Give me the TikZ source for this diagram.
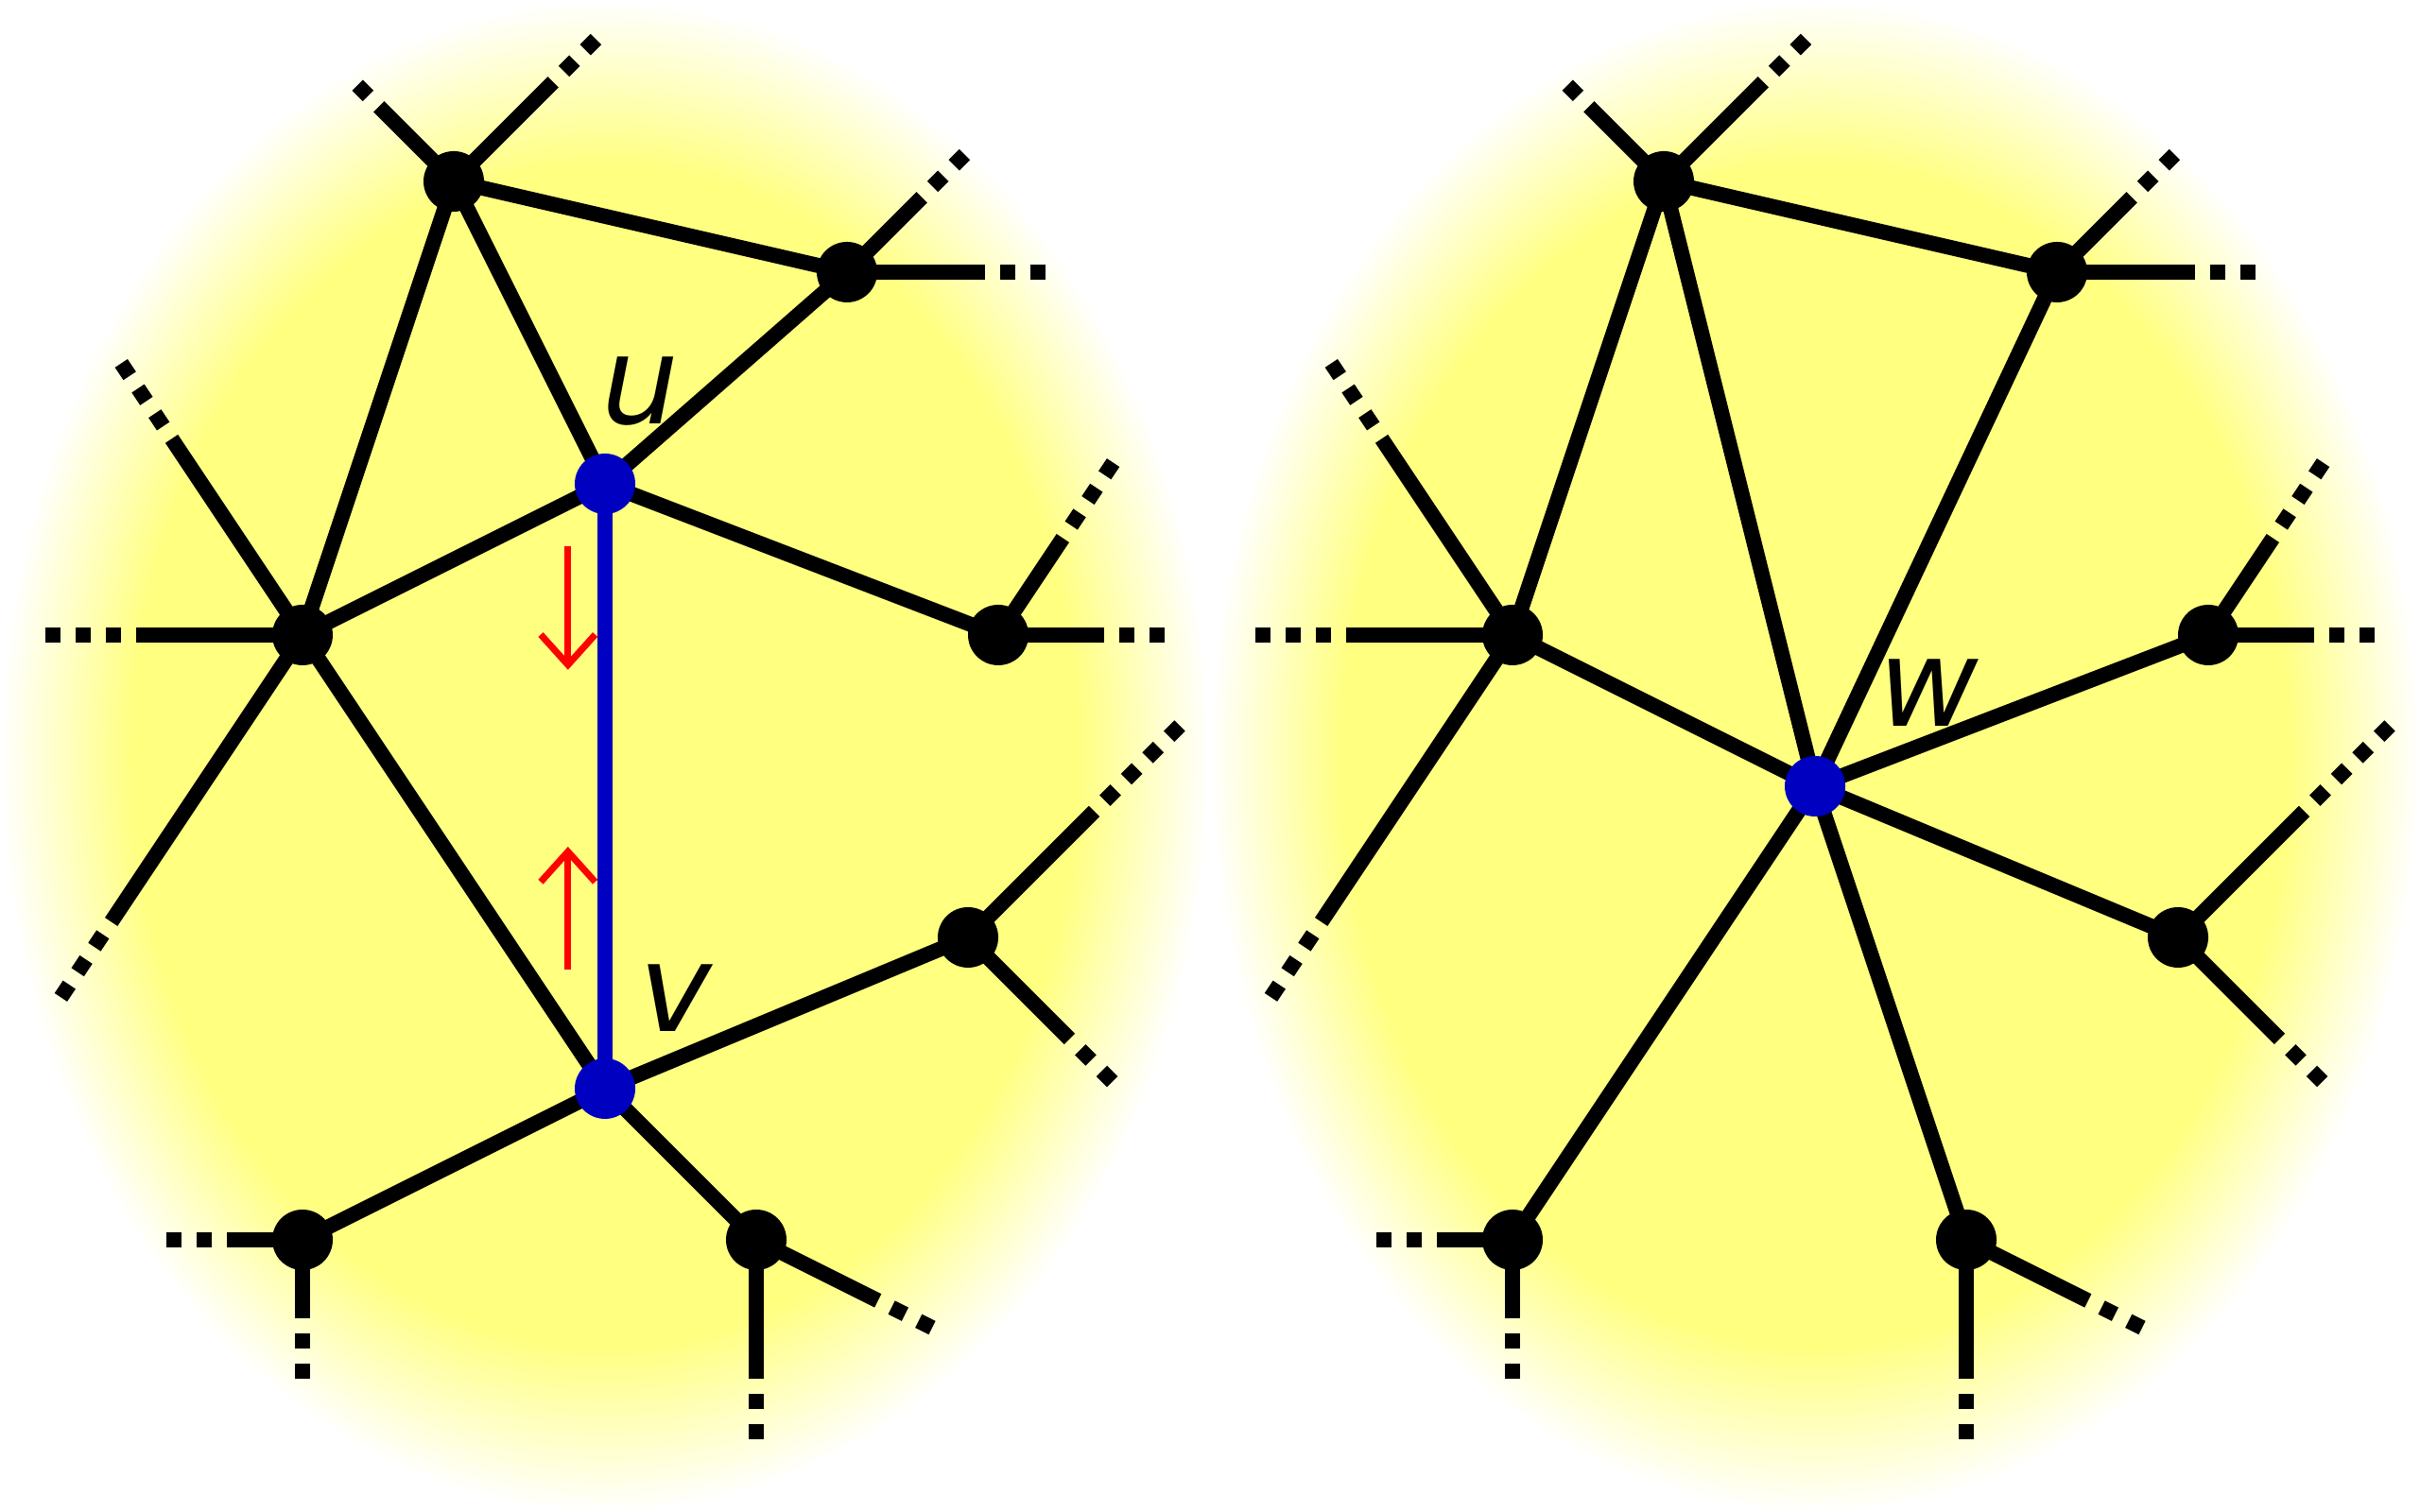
\documentclass[tikz,border=0pt]{standalone}
\usepackage{fontspec}
\setmainfont{DejaVu Sans}
\usetikzlibrary{calc,arrows.meta}
\definecolor{yel}{RGB}{255,255,128}
\definecolor{nodeblue}{RGB}{0,0,192}
\pgfdeclareradialshading{glow}{\pgfpoint{0bp}{0bp}}{color(0bp)=(yel); color(19.5bp)=(yel); color(25bp)=(white); color(50bp)=(white)}
\pgfdeclarelayer{bg}
\pgfsetlayers{bg,main}
\tikzset{
 dot/.style={circle,fill=black,minimum size=0.4cm,inner sep=0pt},
 bdot/.style={dot,fill=nodeblue},
 edge/.style={line width=0.1cm},
 bedge/.style={line width=0.1cm,draw=nodeblue},
 dots/.style={line width=0.1cm,dash pattern=on 0.1cm off 0.1cm,dash phase=0.1cm},
 lab/.style={font=\fontsize{23}{27}\selectfont\itshape,inner sep=0pt},
 move/.style={draw=red,line width=0.044cm,-{Straight Barb[length=0.2cm,width=0.36cm]}}
}
% node, angle, solid length, total length, name
\newcommand\stubline[5]{%
 \coordinate (#5a) at ($(#1)+(#2:#3)$);
 \coordinate (#5b) at ($(#1)+(#2:#4)$);
 \draw[edge] (#1.center) -- (#5a);
 \draw[dots] (#5a) -- (#5b);
}
\newcommand\stubset[2]{% node prefix suffix
 \stubline{A#1}{135}{0.7}{0.9}{sa1#1}
 \stubline{A#1}{45}{0.93}{1.33}{sa2#1}
 \stubline{B#1}{0}{0.91}{1.31}{sb1#1}
 \stubline{B#1}{45}{0.7}{1.1}{sb2#1}
 \stubline{C#1}{180}{1.1}{1.7}{sc1#1}
 \stubline{C#1}{123.69}{1.56}{2.16}{sc2#1}
 \stubline{C#1}{236.31}{2.28}{2.88}{sc3#1}
 \stubline{D#1}{0}{0.7}{1.1}{sd1#1}
 \stubline{D#1}{56.31}{0.77}{1.37}{sd2#1}
 \stubline{E#1}{45}{1.18}{1.98}{se1#1}
 \stubline{E#1}{-45}{0.95}{1.35}{se2#1}
 \stubline{F#1}{180}{0.5}{0.9}{sf1#1}
 \stubline{F#1}{-90}{0.52}{0.92}{sf2#1}
 \stubline{G#1}{-90}{0.92}{1.32}{sg1#1}
 \stubline{G#1}{-26.57}{0.9}{1.3}{sg2#1}
}
\begin{document}
\begin{tikzpicture}
\useasboundingbox (0,0) rectangle (16,10);
% left graph nodes
\node[dot] (AL) at (3,8.8) {};
\node[dot] (BL) at (5.6,8.2) {};
\node[dot] (CL) at (2,5.8) {};
\node[dot] (DL) at (6.6,5.8) {};
\node[dot] (EL) at (6.4,3.8) {};
\node[dot] (FL) at (2,1.8) {};
\node[dot] (GL) at (5,1.8) {};
\node[bdot] (U) at (4,6.8) {};
\node[bdot] (V) at (4,2.8) {};
% right graph nodes
\node[dot] (AR) at (11,8.8) {};
\node[dot] (BR) at (13.6,8.2) {};
\node[dot] (CR) at (10,5.8) {};
\node[dot] (DR) at (14.6,5.8) {};
\node[dot] (ER) at (14.4,3.8) {};
\node[dot] (FR) at (10,1.8) {};
\node[dot] (GR) at (13,1.8) {};
\node[bdot] (W) at (12,4.8) {};
% labels
\node[lab] (lu) at (4.235,7.41) {u};
\node[lab] (lv) at (4.465,3.4) {v};
\node[lab] (lw) at (12.75,5.42) {w};
% red arrows
\coordinate (d1) at (3.755,6.39);
\coordinate (d2) at (3.755,5.57);
\coordinate (p1) at (3.755,3.59);
\coordinate (p2) at (3.755,4.40);
\draw[move] (d1) -- (d2);
\draw[move] (p1) -- (p2);
\begin{pgfonlayer}{bg}
\fill[white] (0,0) rectangle (16,10);
\shade[shading=glow] (4,5) ellipse (4 and 5);
\shade[shading=glow] (12,5) ellipse (4 and 5);
% left edges
\foreach \a/\b in {AL/BL,AL/U,AL/CL,BL/U,U/CL,U/DL,CL/V,V/EL,V/FL,V/GL}
  \draw[edge] (\a.center) -- (\b.center);
\draw[bedge] (U.center) -- (V.center);
% right edges
\foreach \a/\b in {AR/BR,AR/CR,AR/W,BR/W,CR/W,DR/W,ER/W,FR/W,GR/W}
  \draw[edge] (\a.center) -- (\b.center);
\stubset{L}{}
\stubset{R}{}
\end{pgfonlayer}
\end{tikzpicture}
\end{document}
